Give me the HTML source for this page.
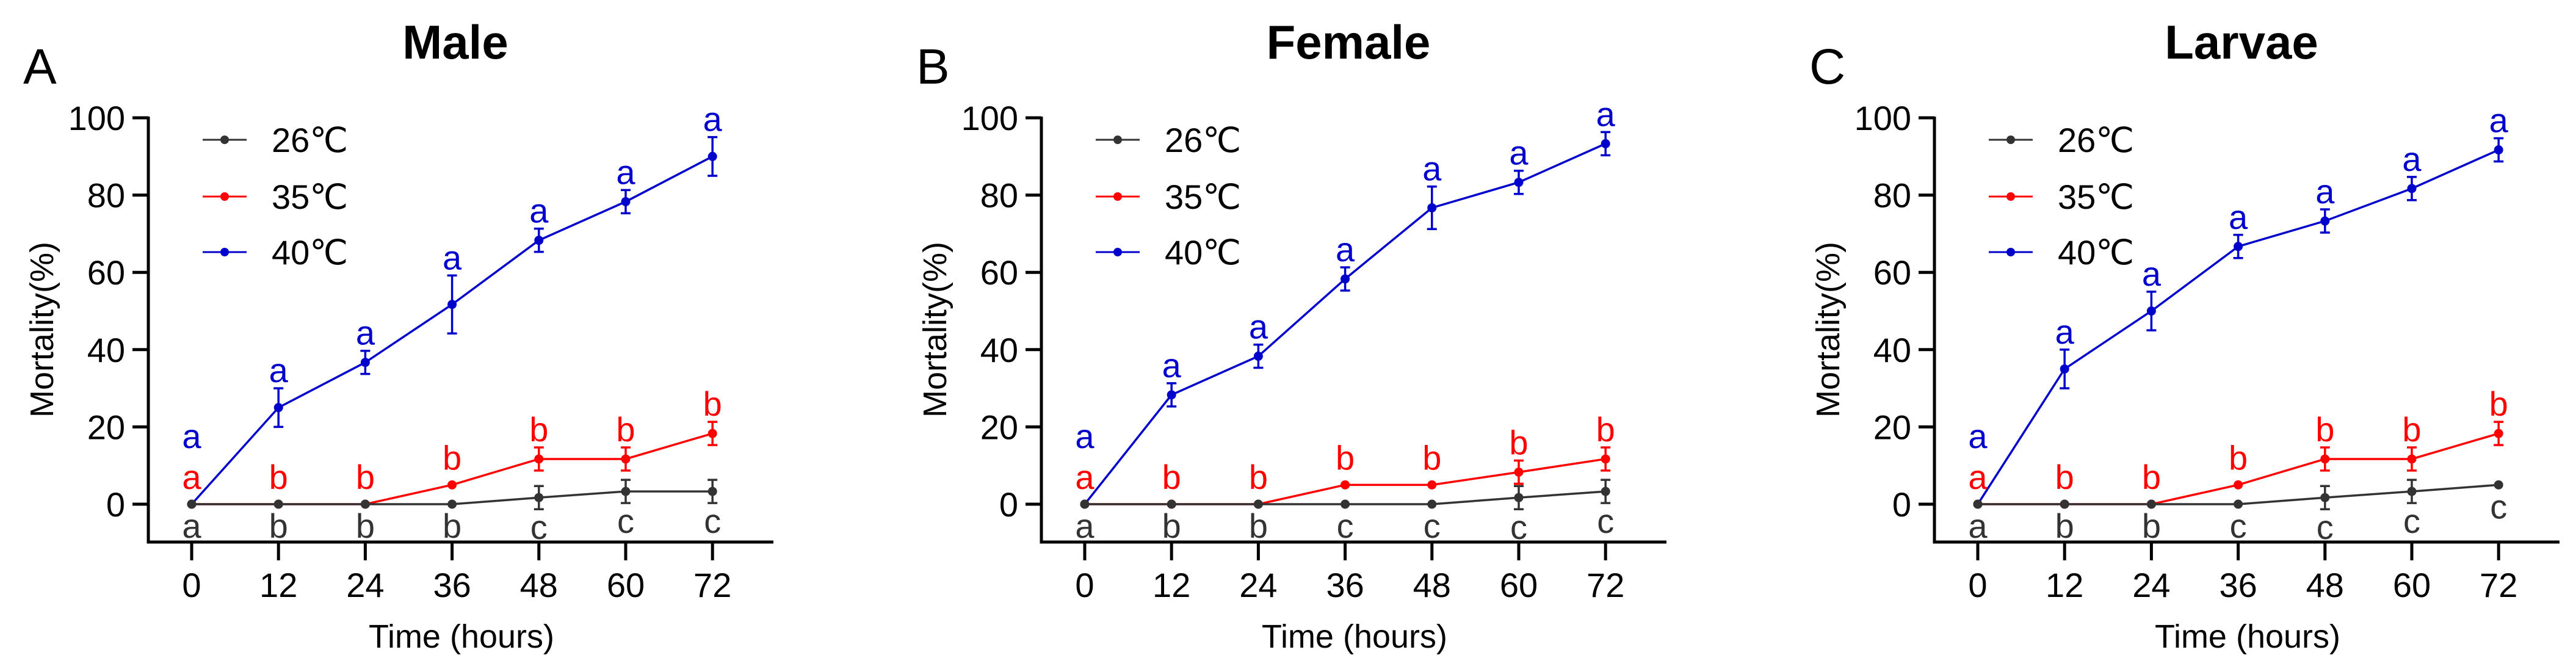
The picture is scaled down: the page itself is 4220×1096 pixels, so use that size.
<!DOCTYPE html>
<html><head><meta charset="utf-8">
<style>
html,body{margin:0;padding:0;background:#fff;}
svg{display:block;font-family:"Liberation Sans",Arial,sans-serif;}
</style></head>
<body>
<svg id="fig" width="4220" height="1096" viewBox="0 0 4220 1096" xmlns="http://www.w3.org/2000/svg"></svg>
<script>
const hours = [0, 12, 24, 36, 48, 60, 72];
const yTicks = [0, 20, 40, 60, 80, 100];
const panelTitles = ["Male", "Female", "Larvae"];
const panelLetters = ["A", "B", "C"];
const seriesNames = ["26℃", "35℃", "40℃"];
// Male
const male26 = [0, 0, 0, 0, 1.7, 3.3, 3.3];
const male26Err = [0, 0, 0, 0, 3, 3, 3];
const male35 = [0, 0, 0, 5, 11.7, 11.7, 18.3];
const male35Err = [0, 0, 0, 0, 3, 3, 3];
const male40 = [0, 25, 36.7, 51.7, 68.3, 78.3, 90];
const male40Err = [0, 5, 3, 7.5, 3, 3, 5];
const male26Sig = ["a","b","b","b","c","c","c"];
const male35Sig = ["a","b","b","b","b","b","b"];
const male40Sig = ["a","a","a","a","a","a","a"];
// Female
const female26 = [0, 0, 0, 0, 0, 1.7, 3.3];
const female26Err = [0, 0, 0, 0, 0, 3, 3];
const female35 = [0, 0, 0, 5, 5, 8.3, 11.7];
const female35Err = [0, 0, 0, 0, 0, 3, 3];
const female40 = [0, 28.3, 38.3, 58.3, 76.7, 83.3, 93.3];
const female40Err = [0, 3, 3, 3, 5.5, 3, 3];
const female26Sig = ["a","b","b","c","c","c","c"];
const female35Sig = ["a","b","b","b","b","b","b"];
const female40Sig = ["a","a","a","a","a","a","a"];
// Larvae
const larvae26 = [0, 0, 0, 0, 1.7, 3.3, 5];
const larvae26Err = [0, 0, 0, 0, 3, 3, 0];
const larvae35 = [0, 0, 0, 5, 11.7, 11.7, 18.3];
const larvae35Err = [0, 0, 0, 0, 3, 3, 3];
const larvae40 = [0, 35, 50, 66.7, 73.3, 81.7, 91.7];
const larvae40Err = [0, 5, 5, 3, 3, 3, 3];
const larvae26Sig = ["a","b","b","c","c","c","c"];
const larvae35Sig = ["a","b","b","b","b","b","b"];
const larvae40Sig = ["a","a","a","a","a","a","a"];

const colors = ["#333333", "#ff0000", "#0000cc"];
const panels = [
  {vals:[male26,male35,male40], errs:[male26Err,male35Err,male40Err], sig:[male26Sig,male35Sig,male40Sig]},
  {vals:[female26,female35,female40], errs:[female26Err,female35Err,female40Err], sig:[female26Sig,female35Sig,female40Sig]},
  {vals:[larvae26,larvae35,larvae40], errs:[larvae26Err,larvae35Err,larvae40Err], sig:[larvae26Sig,larvae35Sig,larvae40Sig]}
];

const svg = document.getElementById('fig');
const NS = "http://www.w3.org/2000/svg";
function mk(tag, attrs, parent, text){
  const e = document.createElementNS(NS, tag);
  for (const k in attrs) e.setAttribute(k, attrs[k]);
  if (text !== undefined) e.textContent = text;
  (parent||svg).appendChild(e);
  return e;
}
const Y0 = 826, YPX = 6.33;
function yS(v){ return Y0 - v*YPX; }

panels.forEach((p, pi) => {
  const off = pi*1463;
  const axX = 243 + off;
  const xS = h => 314 + off + h*(142.2/12);
  const g = mk('g', {});
  
  

  let t = mk('text', {x: 746+off, y: 96, 'font-size': 78, 'font-weight': 'bold', 'text-anchor': 'middle'}, g, panelTitles[pi]);
  
  
  t = mk('text', {x: 38+off, y: 137, 'font-size': 82}, g, panelLetters[pi]);
  
  

  // axes
  let a = mk('path', {d: `M${axX} 191 V888 H${1267+off}`, stroke:'#000', 'stroke-width':5, fill:'none'}, g);
  
  
  yTicks.forEach(v => {
    const y = yS(v);
    const tk = mk('line', {x1: axX-26, x2: axX, y1: y, y2: y, stroke:'#000', 'stroke-width':5}, g);
    
    
    const lb = mk('text', {x: axX-38, y: y+20, 'font-size': 56, 'text-anchor':'end'}, g, String(v));
    
    
  });
  hours.forEach(h => {
    const x = xS(h);
    const tk = mk('line', {x1: x, x2: x, y1: 888, y2: 918, stroke:'#000', 'stroke-width':5}, g);
    
    
    const lb = mk('text', {x: x, y: 978, 'font-size': 56, 'text-anchor':'middle'}, g, String(h));
    
    
  });
  t = mk('text', {x: 756+off, y: 1061, 'font-size': 54, 'text-anchor':'middle'}, g, 'Time (hours)');
  
  
  t = mk('text', {x: 0, y: 0, 'font-size': 54, 'text-anchor':'middle', transform:`translate(${87+off},540) rotate(-90)`}, g, 'Mortality(%)');
  
  

  // legend
  const legY = [229, 322, 413];
  seriesNames.forEach((n, si) => {
    const lg = mk('g', {}, g);
    
    
    mk('line', {x1: 332+off, x2: 404+off, y1: legY[si], y2: legY[si], stroke: colors[si], 'stroke-width':3}, lg);
    mk('circle', {cx: 368+off, cy: legY[si], r: 7, fill: colors[si]}, lg);
    mk('text', {x: 445+off, y: legY[si]+20, 'font-size': 56}, lg, n);
  });

  // series (draw 40, 35, 26 order so gray on top)
  [2,1,0].forEach(si => {
    const vals = p.vals[si], errs = p.errs[si], sig = p.sig[si];
    const sg = mk('g', {}, g);
    
    
    const pts = vals.map((v,i) => `${xS(hours[i])},${yS(v)}`).join(' ');
    mk('polyline', {points: pts, fill:'none', stroke: colors[si], 'stroke-width':3.5}, sg);
    vals.forEach((v, i) => {
      const x = xS(hours[i]);
      const e = errs[i];
      if (e > 0) {
        const eb = mk('path', {d:`M${x} ${yS(v+e)} V${yS(v-e)} M${x-8} ${yS(v+e)} H${x+8} M${x-8} ${yS(v-e)} H${x+8}`, stroke: colors[si], 'stroke-width':3.5, fill:'none'}, sg);
        
        
      }
      const c = mk('circle', {cx: x, cy: yS(v), r: 7.5, fill: colors[si]}, sg);
      
      
      let ly;
      if (si === 0) {
        ly = Math.max(yS(v-e)+29, yS(v)+35);
      } else {
        ly = Math.min(yS(v+e)-30, yS(v)-45);
        if (i === 0 && si === 2) ly = yS(v) - 112;
      }
      const st = mk('text', {x: x, y: ly+20, 'font-size': 56, 'text-anchor':'middle', fill: colors[si]}, sg, sig[i]);
      
      
    });
  });
});
</script>
</body></html>
